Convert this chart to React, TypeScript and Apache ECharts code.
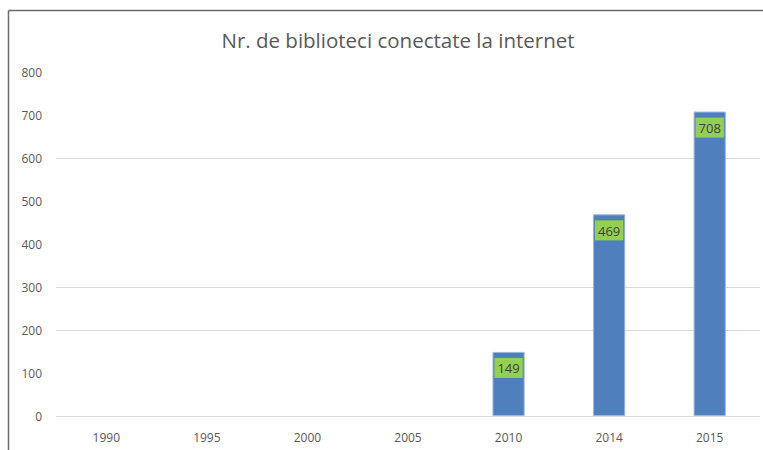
import React, { useEffect, useRef } from "react";
import * as echarts from "echarts";

const categories = ["1990", "1995", "2000", "2005", "2010", "2014", "2015"];
const libraries = [0, 0, 0, 0, 149, 469, 708];
const gridColors = ["#d9d9d9", "rgba(0,0,0,0)", "#d9d9d9", "#d9d9d9", "rgba(0,0,0,0)", "rgba(0,0,0,0)", "#d9d9d9", "rgba(0,0,0,0)", "rgba(0,0,0,0)"];

export default function App() {
  const ref = useRef<HTMLDivElement>(null);
  useEffect(() => {
    if (!ref.current) return;
    const chart = echarts.init(ref.current, undefined, { renderer: "svg" });
    const font = "'Open Sans', 'Noto Sans', sans-serif";
    chart.setOption({
      animation: false,
      backgroundColor: "#ffffff",
      title: {
        text: "Nr. de biblioteci conectate la internet",
        left: 393,
        textAlign: "center",
        top: 24,
        textStyle: { fontFamily: font, fontSize: 20.5, fontWeight: "normal", color: "#595959" },
      },
      graphic: [
        { type: "line", shape: { x1: 8.5, y1: 10.5, x2: 763, y2: 10.5 }, style: { stroke: "#6b6b6b", lineWidth: 1.5 } },
        { type: "line", shape: { x1: 8.5, y1: 10.5, x2: 8.5, y2: 450 }, style: { stroke: "#6b6b6b", lineWidth: 1.5 } },
      ],
      grid: { left: 56, right: 3, top: 72, bottom: 34, containLabel: false },
      xAxis: {
        type: "category",
        data: categories,
        axisLine: { show: false },
        axisTick: { show: false },
        axisLabel: { color: "#595959", fontFamily: font, fontSize: 12, margin: 15 },
      },
      yAxis: {
        type: "value",
        min: 0,
        max: 800,
        interval: 100,
        axisLine: { show: false },
        axisTick: { show: false },
        axisLabel: { color: "#595959", fontFamily: font, fontSize: 12, margin: 14 },
        splitLine: { lineStyle: { color: gridColors, width: 1 } },
      },
      series: [
        {
          type: "bar",
          data: libraries.map((v) => (v === 0 ? null : v)),
          barWidth: "32%",
          itemStyle: { color: "#4f7fbd", borderColor: "#9bb7dc", borderWidth: 1 },
          label: {
            show: true,
            position: "insideTop",
            distance: 6,
            color: "#404040",
            fontFamily: font,
            fontSize: 13,
            backgroundColor: "#92d050",
            padding: [4, 3, 3, 3],
          },
        },
      ],
    });
    return () => chart.dispose();
  }, []);
  return <div ref={ref} style={{ position: "fixed", left: 0, top: 0, width: 763, height: 450 }} />;
}
